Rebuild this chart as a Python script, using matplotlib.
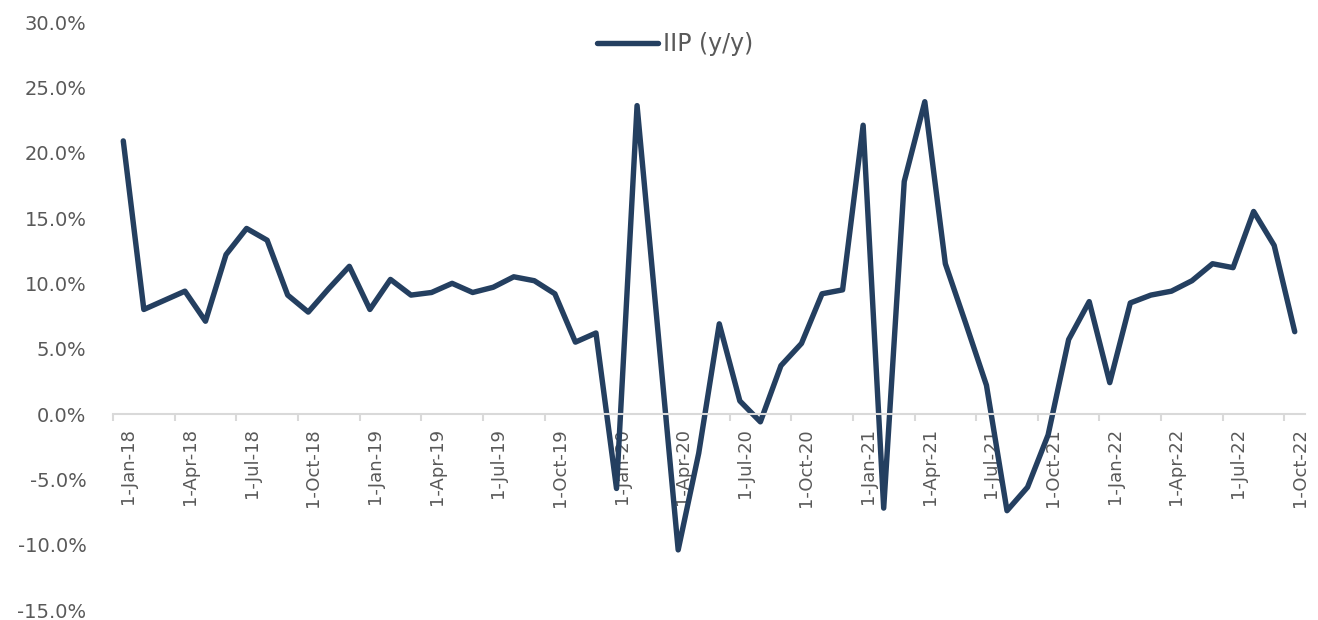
import numpy as np
import pandas as pd
import matplotlib
matplotlib.use("Agg")
import matplotlib.pyplot as plt
import matplotlib.transforms as mtransforms
from matplotlib.ticker import FuncFormatter

# Dados (IIP y/y, %), mensal de Jan-2018 a Oct-2022
iip_2018 = [20.9, 8.0, 8.7, 9.4, 7.1, 12.2, 14.2, 13.3, 9.1, 7.8, 9.6, 11.3]
iip_2019 = [8.0, 10.3, 9.1, 9.3, 10.0, 9.3, 9.7, 10.5, 10.2, 9.2, 5.5, 6.2]
iip_2020 = [-5.7, 23.6, 6.6, -10.4, -3.0, 6.9, 1.0, -0.6, 3.7, 5.4, 9.2, 9.5]
iip_2021 = [22.1, -7.2, 17.8, 23.9, 11.5, 6.9, 2.2, -7.4, -5.6, -1.6, 5.7, 8.6]
iip_2022 = [2.4, 8.5, 9.1, 9.4, 10.2, 11.5, 11.2, 15.5, 12.9, 6.3]

iip = iip_2018 + iip_2019 + iip_2020 + iip_2021 + iip_2022
meses = pd.date_range("2018-01-01", "2022-10-01", freq="MS")
rotulos = [f"1-{d:%b-%y}" for d in meses]

cor_linha = "#243f60"
cor_texto = "#595959"

fig = plt.figure(figsize=(13.18, 6.2), dpi=100)
ax = fig.add_axes([113 / 1318, 10 / 620, 1192 / 1318, 588 / 620])

x = np.arange(len(iip))
ax.plot(x, iip, color=cor_linha, linewidth=3.9, solid_joinstyle="round",
        solid_capstyle="round", label="IIP (y/y)")

# Eixo y
ax.set_ylim(-15, 30)
ax.set_yticks(np.arange(-15, 31, 5))
ax.yaxis.set_major_formatter(FuncFormatter(lambda v, p: f"{v:.1f}%"))
ax.tick_params(axis="y", length=0, pad=19, labelsize=14, labelcolor=cor_texto)

# Eixo x na linha do zero
ax.set_xlim(-0.5, len(iip) - 0.5)
for s in ["left", "right", "top"]:
    ax.spines[s].set_visible(False)
ax.spines["bottom"].set_position(("data", 0))
ax.spines["bottom"].set_color("#d9d9d9")
ax.spines["bottom"].set_linewidth(1.5)

ax.set_xticks(x[::3])
ax.set_xticklabels(rotulos[::3], rotation=90, va="top", ha="center",
                   family=["Liberation Sans Narrow", "DejaVu Sans"])
ax.set_xticks(x[::3] - 0.5, minor=True)
ax.tick_params(axis="x", which="major", length=0, pad=10, labelsize=13,
               labelcolor=cor_texto)
ax.tick_params(axis="x", which="minor", length=5, width=1.5, color="#d9d9d9")

desloc = mtransforms.ScaledTranslation(5 / 100, 0, fig.dpi_scale_trans)
for lbl in ax.get_xticklabels():
    lbl.set_transform(lbl.get_transform() + desloc)

leg = ax.legend(loc="center", bbox_to_anchor=(0.4715, 0.962), frameon=False,
                fontsize=17, handlelength=2.6, handletextpad=0.2)
for t in leg.get_texts():
    t.set_color(cor_texto)

fig.savefig("out.png", dpi=100)
